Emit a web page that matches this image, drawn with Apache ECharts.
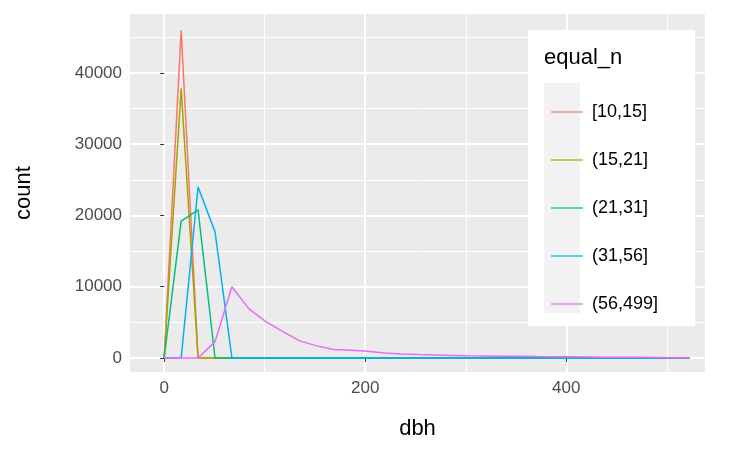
<!DOCTYPE html>
<html><head><meta charset="utf-8">
<script src="https://cdn.jsdelivr.net/npm/echarts@6/dist/echarts.min.js"></script>
<style>html,body{margin:0;padding:0;background:#fff}#c{width:740px;height:457px}</style>
</head><body><div id="c"></div>
<script>
const binCenters = [0,16.9,33.7,50.6,67.4,84.3,101.2,118,134.9,151.7,168.6,185.5,202.3,219.2,236,252.9,269.8,286.6,303.5,320.3,337.2,354.1,370.9,387.8,404.6,421.5,438.4,455.2,472.1,488.9,505.8,522.7];
const seriesNames = ['[10,15]','(15,21]','(21,31]','(31,56]','(56,499]'];
const colors = ['#F8766D','#A3A500','#00BF7D','#00B0F6','#E76BF3'];
const s1 = [0,46000,0];
const s2 = [0,37800,0];
const s3 = [0,19200,20800,0];
const s4 = [0,0,24000,17700,0];
const s5 = [0,0,0,2300,10000,6900,5100,3700,2400,1700,1200,1080,940,700,560,480,420,360,310,280,260,230,200,180,160,140,120,100,90,70,50,20];
const allVals = [s1,s2,s3,s4,s5];
const xMajor = [0,200,400], xMinor = [100,300,500];
const yMajor = [0,10000,20000,30000,40000], yMinor = [5000,15000,25000,35000,45000];

function pad(v){ return binCenters.map((x,i)=>[x, i<v.length ? v[i] : 0]); }
const grid = [];
xMinor.forEach(v=>grid.push({xAxis:v,lineStyle:{width:1}}));
xMajor.forEach(v=>grid.push({xAxis:v,lineStyle:{width:2}}));
yMinor.forEach(v=>grid.push({yAxis:v,lineStyle:{width:1}}));
yMajor.forEach(v=>grid.push({yAxis:v,lineStyle:{width:2}}));

const series = [{type:'line',data:[],z:0,zlevel:0,silent:true,
  markLine:{silent:true,symbol:'none',label:{show:false},animation:false,z:0,
    lineStyle:{color:'#ffffff',type:'solid'},data:grid}}];
allVals.forEach((v,i)=>series.push({name:seriesNames[i],type:'line',data:pad(v),
  showSymbol:false,lineStyle:{width:1.5,color:colors[i]},itemStyle:{color:colors[i]},z:5+i,animation:false}));

const fmt = v => String(v);
const chart = echarts.init(document.getElementById('c'));
chart.setOption({
  animation:false,
  grid:{left:130,top:14,width:575,height:358,show:true,backgroundColor:'#ebebeb',borderWidth:0},
  xAxis:{type:'value',min:-34,max:538,name:'dbh',nameLocation:'middle',nameGap:46,
    nameTextStyle:{fontSize:22,color:'#000',fontFamily:'Liberation Sans'},
    axisLine:{show:false},splitLine:{show:false},
    axisTick:{customValues:xMajor,length:4,lineStyle:{color:'#333'}},
    axisLabel:{customValues:xMajor,formatter:fmt,fontSize:17,color:'#4d4d4d',fontFamily:'Liberation Sans'}},
  yAxis:{type:'value',min:-1965,max:48280,name:'count',nameLocation:'middle',nameGap:95,
    nameTextStyle:{fontSize:22,color:'#000',fontFamily:'Liberation Sans'},
    axisLine:{show:false},splitLine:{show:false},
    axisTick:{customValues:yMajor,length:4,lineStyle:{color:'#333'}},
    axisLabel:{customValues:yMajor,formatter:fmt,fontSize:17,color:'#4d4d4d',fontFamily:'Liberation Sans',margin:8}},
  graphic:[
    {type:'rect',shape:{x:528,y:30,width:167,height:296},style:{fill:'#fff'},z:10},
    {type:'text',left:544,top:47,style:{text:'equal_n',fontSize:22,fill:'#000',fontFamily:'Liberation Sans'},z:11},
    ...[0,1,2,3,4].map(i=>({type:'rect',shape:{x:544,y:83+i*46,width:36,height:46},style:{fill:'#f2f2f2'},z:11}))
  ],
  legend:{orient:'vertical',left:546,top:98,itemGap:30,itemWidth:32,itemHeight:16,z:12,
    icon:'path://M0,7.4 H32 V8.6 H0 Z',
    textStyle:{fontSize:18,color:'#000',fontFamily:'Liberation Sans',padding:[0,0,0,4]},
    data:seriesNames},
  series:series
});
</script></body></html>
